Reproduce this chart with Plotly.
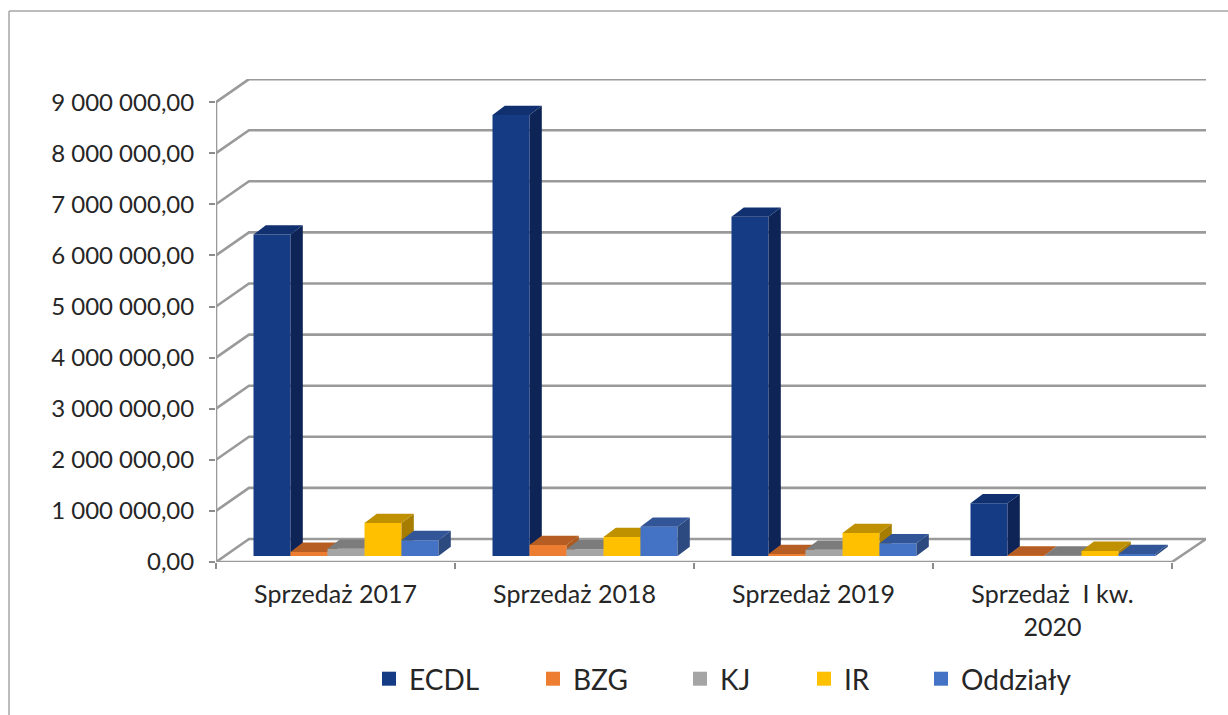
import plotly.graph_objects as go

categories = ["Sprzedaż 2017", "Sprzedaż 2018", "Sprzedaż 2019", "Sprzedaż  I kw.<br>2020"]
ECDL = [6290000, 8630000, 6640000, 1030000]
BZG = [80000, 215000, 40000, 10000]
KJ = [140000, 130000, 120000, 10000]
IR = [645000, 370000, 450000, 100000]
Oddzialy = [310000, 570000, 250000, 40000]
y_ticks = [0, 1000000, 2000000, 3000000, 4000000, 5000000, 6000000, 7000000, 8000000, 9000000]
y_labels = ["0,00", "1 000 000,00", "2 000 000,00", "3 000 000,00", "4 000 000,00",
            "5 000 000,00", "6 000 000,00", "7 000 000,00", "8 000 000,00", "9 000 000,00"]

series = [
    ("ECDL", ECDL, "#153B85", "#113070", "#0E2456", 369),
    ("BZG", BZG, "#ED7D31", "#B55D22", "#AD5A20", 533),
    ("KJ", KJ, "#A5A5A5", "#7C7C7C", "#7C7C7C", 680),
    ("IR", IR, "#FFC000", "#BF9000", "#A67D00", 804),
    ("Oddziały", Oddzialy, "#4472C4", "#325597", "#2C4A80", 921),
]

# pixel layout of the plot area
PL, PR, PT, PB = 216, 1206, 79, 562
W, H = 1228, 715
CAT = 239.0            # px per category
UNIT = 51.1 / 1e6      # px per value unit
xr = (PR - PL) / CAT
yr = (PB - PT) / UNIT

wall_dx, wall_dy = 33 / CAT, 23 / UNIT
bar_dx, bar_dy = 12.3 / CAT, 9.3 / UNIT
floor = 6 / UNIT
start, bw = 37.5 / CAT, 37 / CAT
GRID = "#9A9A9A"

fig = go.Figure()


def grid(xs, ys, w=2.6):
    fig.add_trace(go.Scatter(x=xs, y=ys, mode="lines", line=dict(color=GRID, width=w),
                             showlegend=False, hoverinfo="skip", cliponaxis=False))


# walls and floor in the main subplot
for v in y_ticks:
    grid([0, wall_dx, xr], [v, v + wall_dy, v + wall_dy])
grid([0, 0], [0, y_ticks[-1]])
grid([0, len(categories), xr], [0, 0, wall_dy])

for i, (name, vals, front, top, side, lx) in enumerate(series):
    ax = str(i + 2)
    xa, ya = "x" + ax, "y" + ax
    lg = "legend" if i == 0 else "legend" + ax
    fig.add_trace(go.Bar(x=list(range(len(vals))), y=vals, base=floor, width=bw, offset=start + i * bw,
                         name=name, marker=dict(color=front, line=dict(width=0)),
                         xaxis=xa, yaxis=ya, showlegend=False, hoverinfo="skip"))
    fig.add_trace(go.Scatter(x=[None], y=[None], mode="markers", name=name,
                             marker=dict(symbol="square", size=14, color=front, line=dict(width=0)),
                             xaxis=xa, yaxis=ya, legend=lg, hoverinfo="skip"))
    sx, sy, tx, ty = [], [], [], []
    for c, v in enumerate(vals):
        L = c + start + i * bw
        R = L + bw
        sx += [R, R + bar_dx, R + bar_dx, R, None]
        sy += [floor, floor + bar_dy, floor + v + bar_dy, floor + v, None]
        tx += [L, R, R + bar_dx, L + bar_dx, None]
        ty += [floor + v, floor + v, floor + v + bar_dy, floor + v + bar_dy, None]
    for xs, ys, col in ((sx, sy, side), (tx, ty, top)):
        fig.add_trace(go.Scatter(x=xs, y=ys, mode="lines", fill="toself", fillcolor=col,
                                 line=dict(width=0, color=col), showlegend=False,
                                 hoverinfo="skip", xaxis=xa, yaxis=ya))

FONT = "Lato"
TXT = "#262626"
layout = dict(
    width=W, height=H, autosize=False,
    margin=dict(l=PL, r=W - PR, t=PT, b=H - PB, pad=0, autoexpand=False),
    paper_bgcolor="white", plot_bgcolor="white",
    barmode="overlay", showlegend=True,
    font=dict(family=FONT, size=23, color=TXT),
    xaxis=dict(range=[0, xr], tickmode="array",
               tickvals=[c + 0.5 for c in range(len(categories))], ticktext=categories,
               ticks="", showgrid=False, zeroline=False, showline=False,
               tickfont=dict(family=FONT, size=25, color=TXT), tickangle=0,
               ticklabelstandoff=15, automargin=False,
               minor=dict(tickmode="array", tickvals=list(range(len(categories) + 1)),
                          ticks="outside", ticklen=6, tickwidth=1.5, tickcolor="#8C8C8C", showgrid=False)),
    yaxis=dict(range=[0, yr], tickmode="array", tickvals=y_ticks, ticktext=y_labels,
               ticks="outside", ticklen=6, tickwidth=1.5, tickcolor="#8C8C8C",
               showgrid=False, zeroline=False, showline=False,
               ticklabelstandoff=10, automargin=False,
               tickfont=dict(family=FONT, size=24, color=TXT)),
    shapes=[
        dict(type="line", xref="paper", yref="paper",
             x0=(9 - PL) / (PR - PL), x1=(9 - PL) / (PR - PL),
             y0=(PB - H) / (PB - PT), y1=(PB - 11) / (PB - PT),
             line=dict(color="#A6A6A6", width=1.5)),
        dict(type="line", xref="paper", yref="paper",
             x0=(9 - PL) / (PR - PL), x1=(W - PL) / (PR - PL),
             y0=(PB - 11) / (PB - PT), y1=(PB - 11) / (PB - PT),
             line=dict(color="#A6A6A6", width=1.5)),
    ],
)
for i, s in enumerate(series):
    ax = str(i + 2)
    layout["xaxis" + ax] = dict(overlaying="x", range=[0, xr], visible=False)
    layout["yaxis" + ax] = dict(overlaying="y", range=[0, yr], visible=False)
    key = "legend" if i == 0 else "legend" + ax
    layout[key] = dict(x=(s[5] - PL) / (PR - PL), xanchor="left",
                       y=(PB - 654) / (PB - PT), yanchor="top",
                       bgcolor="rgba(0,0,0,0)", font=dict(family=FONT, size=28, color=TXT),
                       itemclick=False, itemdoubleclick=False)
fig.update_layout(**layout)

fig.write_html("out.html", config={"displayModeBar": False},
               post_script="document.body.style.margin='0';document.body.style.overflow='hidden';")
